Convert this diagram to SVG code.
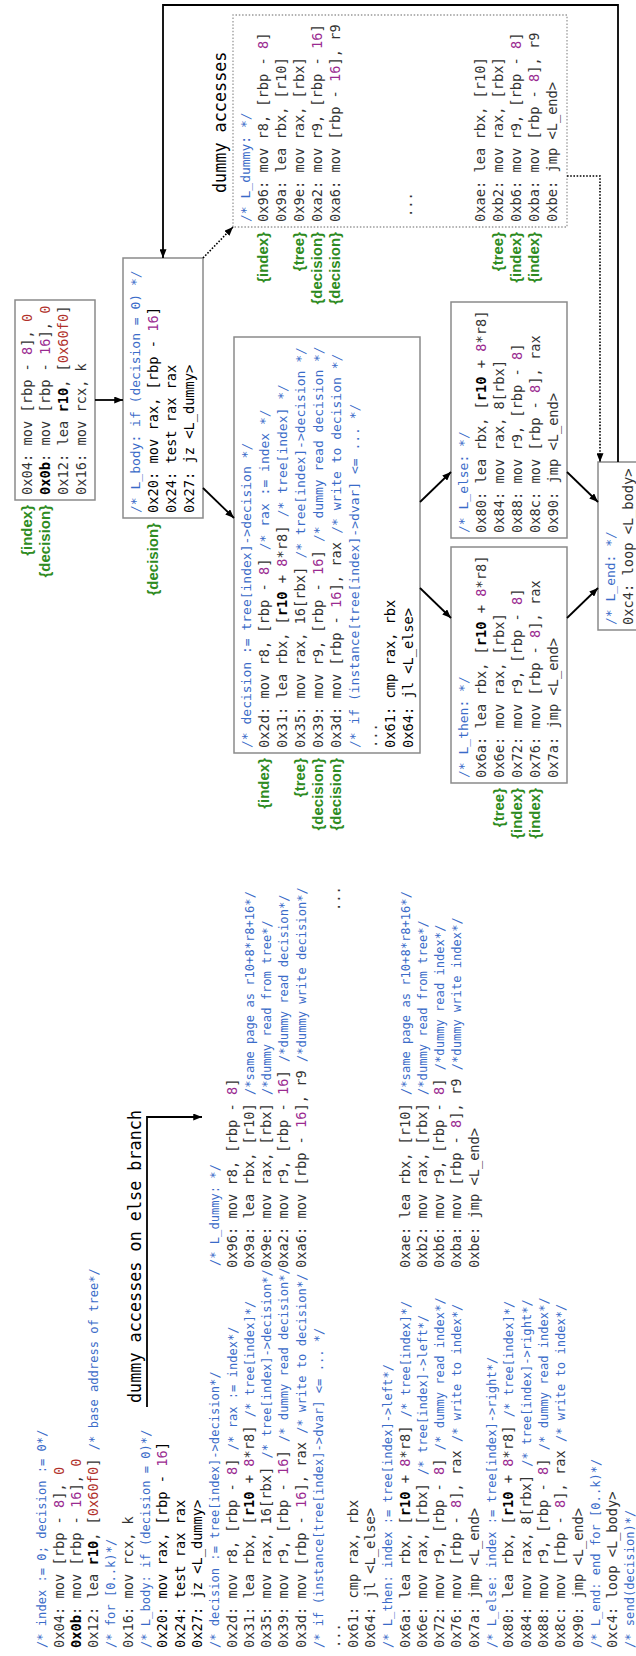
<svg xmlns="http://www.w3.org/2000/svg" width="636" height="1656" viewBox="0 0 636 1656">
<defs>
<style>
text{font-family:"DejaVu Sans Mono",monospace;}
.lc{font-size:13.7px;fill:#333;}
.lm{font-size:12.1px;fill:#3a6bc8;}
.bc{font-size:13.7px;fill:#333;}
.bm{font-size:13px;fill:#3a6bc8;}
.k{fill:#000;}
.p{fill:#9a2a90;}
.r{fill:#b0302a;}
.b{font-weight:bold;fill:#000;}
.lab{font-family:"Liberation Sans",Arial,sans-serif;font-weight:bold;font-size:15px;fill:#2e8b22;text-anchor:end;}
.ttl{font-size:16.8px;fill:#000;}
.box{fill:#fff;stroke:#8a8a8a;stroke-width:1.5;}
.dbox{fill:#fff;stroke:#999;stroke-width:1.3;stroke-dasharray:1.5 1.8;}
.ar{fill:none;stroke:#000;stroke-width:1.8;marker-end:url(#ah);}
.ard{fill:none;stroke:#000;stroke-width:1.6;stroke-dasharray:1.6 1.6;marker-end:url(#ah);}
</style>
<marker id="ah" viewBox="0 0 10 8" refX="10" refY="4" markerWidth="9" markerHeight="7" markerUnits="userSpaceOnUse" orient="auto"><path d="M0,0 L10,4 L0,8 z" fill="#000"/></marker>
</defs>
<rect width="636" height="1656" fill="#fff"/>

<g id="listing" transform="translate(0,1656) rotate(-90)">
<text class="lm" x="8" y="46.2">/* index := 0; decision := 0*/</text>
<text class="lc" x="8" y="63.5">0x04: mov [rbp - <tspan class="p">8</tspan>], <tspan class="r">0</tspan></text>
<text class="lc" x="8" y="80.8"><tspan class="b">0x0b</tspan>: mov [rbp - <tspan class="p">16</tspan>], <tspan class="r">0</tspan></text>
<text class="lc" x="8" y="98.1">0x12: lea <tspan class="b">r10</tspan>, [<tspan class="r">0x60f0</tspan>] <tspan class="lm">/* base address of tree*/</tspan></text>
<text class="lm" x="8" y="115.4">/* for [0..k)*/</text>
<text class="lc" x="8" y="132.7">0x16: mov rcx, k</text>
<text class="lm" x="8" y="150">/* L_body: if (decision = 0)*/</text>
<text class="lc k" x="8" y="167.3">0x20: mov rax, [rbp - <tspan class="p">16</tspan>]</text>
<text class="lc k" x="8" y="184.6">0x24: test rax rax</text>
<text class="lc k" x="8" y="201.9">0x27: jz &lt;L_dummy&gt;</text>
<text class="lm" x="8" y="219.2">/* decision := tree[index]-&gt;decision*/</text>
<text class="lc" x="8" y="236.5">0x2d: mov r8, [rbp - <tspan class="p">8</tspan>] <tspan class="lm">/* rax := index*/</tspan></text>
<text class="lc" x="8" y="253.8">0x31: lea rbx, [<tspan class="b">r10</tspan> + <tspan class="p">8</tspan>*r8] <tspan class="lm">/* tree[index]*/</tspan></text>
<text class="lc" x="8" y="271.1">0x35: mov rax, 16[rbx] <tspan class="lm">/* tree[index]-&gt;decision*/</tspan></text>
<text class="lc" x="8" y="288.4">0x39: mov r9, [rbp - <tspan class="p">16</tspan>] <tspan class="lm">/* dummy read decision*/</tspan></text>
<text class="lc" x="8" y="305.7">0x3d: mov [rbp - <tspan class="p">16</tspan>], rax <tspan class="lm">/* write to decision*/</tspan></text>
<text class="lm" x="8" y="323">/* if (instance[tree[index]-&gt;dvar] &lt;= ... */</text>
<text class="lc" x="8" y="340.3">...</text>
<text class="lc" x="8" y="357.6">0x61: cmp rax, rbx</text>
<text class="lc" x="8" y="374.9">0x64: jl &lt;L_else&gt;</text>
<text class="lm" x="8" y="392.2">/* L_then: index := tree[index]-&gt;left*/</text>
<text class="lc" x="8" y="409.5">0x6a: lea rbx, [<tspan class="b">r10</tspan> + <tspan class="p">8</tspan>*r8] <tspan class="lm">/* tree[index]*/</tspan></text>
<text class="lc" x="8" y="426.8">0x6e: mov rax, [rbx] <tspan class="lm">/* tree[index]-&gt;left*/</tspan></text>
<text class="lc" x="8" y="444.1">0x72: mov r9, [rbp - <tspan class="p">8</tspan>] <tspan class="lm">/* dummy read index*/</tspan></text>
<text class="lc" x="8" y="461.4">0x76: mov [rbp - <tspan class="p">8</tspan>], rax <tspan class="lm">/* write to index*/</tspan></text>
<text class="lc" x="8" y="478.7">0x7a: jmp &lt;L_end&gt;</text>
<text class="lm" x="8" y="496">/* L_else: index := tree[index]-&gt;right*/</text>
<text class="lc" x="8" y="513.3">0x80: lea rbx, [<tspan class="b">r10</tspan> + <tspan class="p">8</tspan>*r8] <tspan class="lm">/* tree[index]*/</tspan></text>
<text class="lc" x="8" y="530.6">0x84: mov rax, 8[rbx] <tspan class="lm">/* tree[index]-&gt;right*/</tspan></text>
<text class="lc" x="8" y="547.9">0x88: mov r9, [rbp - <tspan class="p">8</tspan>] <tspan class="lm">/* dummy read index*/</tspan></text>
<text class="lc" x="8" y="565.2">0x8c: mov [rbp - <tspan class="p">8</tspan>], rax <tspan class="lm">/* write to index*/</tspan></text>
<text class="lc" x="8" y="582.5">0x90: jmp &lt;L_end&gt;</text>
<text class="lm" x="8" y="599.8">/* L_end: end for [0..k)*/</text>
<text class="lc" x="8" y="617.1">0xc4: loop &lt;L_body&gt;</text>
<text class="lm" x="8" y="634.4">/* send(decision)*/</text>

<text class="lm" x="390" y="219.2">/* L_dummy: */</text>
<text class="lc" x="388" y="236.5">0x96: mov r8, [rbp - <tspan class="p">8</tspan>]</text>
<text class="lc" x="388" y="253.8">0x9a: lea rbx, [r10] <tspan class="lm">/*same page as r10+8*r8+16*/</tspan></text>
<text class="lc" x="388" y="271.1">0x9e: mov rax, [rbx] <tspan class="lm">/*dummy read from tree*/</tspan></text>
<text class="lc" x="388" y="288.4">0xa2: mov r9, [rbp - <tspan class="p">16</tspan>] <tspan class="lm">/*dummy read decision*/</tspan></text>
<text class="lc" x="388" y="305.7">0xa6: mov [rbp - <tspan class="p">16</tspan>], r9 <tspan class="lm">/*dummy write decision*/</tspan></text>
<text class="lc" x="745" y="340.3">...</text>
<text class="lc" x="388" y="409.5">0xae: lea rbx, [r10] <tspan class="lm">/*same page as r10+8*r8+16*/</tspan></text>
<text class="lc" x="388" y="426.8">0xb2: mov rax, [rbx] <tspan class="lm">/*dummy read from tree*/</tspan></text>
<text class="lc" x="388" y="444.1">0xb6: mov r9, [rbp - <tspan class="p">8</tspan>] <tspan class="lm">/*dummy read index*/</tspan></text>
<text class="lc" x="388" y="461.4">0xba: mov [rbp - <tspan class="p">8</tspan>], r9 <tspan class="lm">/*dummy write index*/</tspan></text>
<text class="lc" x="388" y="478.7">0xbe: jmp &lt;L_end&gt;</text>

<text class="ttl" x="253" y="141">dummy accesses on else branch</text>
</g>

<g id="n-init" transform="translate(0,1656) rotate(-90)">
<rect class="box" x="1156" y="15" width="200" height="80"/>
<text class="bc" x="1161" y="31.5">0x04: mov [rbp - <tspan class="p">8</tspan>], <tspan class="r">0</tspan></text>
<text class="bc" x="1161" y="49.6"><tspan class="b">0x0b</tspan>: mov [rbp - <tspan class="p">16</tspan>], <tspan class="r">0</tspan></text>
<text class="bc" x="1161" y="67.7">0x12: lea <tspan class="b">r10</tspan>, [<tspan class="r">0x60f0</tspan>]</text>
<text class="bc" x="1161" y="85.8">0x16: mov rcx, k</text>
<text class="lab" x="1151" y="31.5">{index}</text>
<text class="lab" x="1151" y="49.6">{decision}</text>
</g>

<g id="n-body" transform="translate(0,1656) rotate(-90)">
<rect class="box" x="1138" y="123" width="260" height="80"/>
<text class="bm" x="1143" y="139.5">/* L_body: if (decision = 0) */</text>
<text class="bc k" x="1143" y="157.6">0x20: mov rax, [rbp - <tspan class="p">16</tspan>]</text>
<text class="bc k" x="1143" y="175.7">0x24: test rax rax</text>
<text class="bc k" x="1143" y="193.8">0x27: jz &lt;L_dummy&gt;</text>
<text class="lab" x="1133" y="157.6">{decision}</text>
</g>

<g id="n-decision" transform="translate(0,1656) rotate(-90)">
<rect class="box" x="903" y="234" width="416" height="186"/>
<text class="bm" x="908" y="250.5">/* decision := tree[index]-&gt;decision */</text>
<text class="bc" x="908" y="268.6">0x2d: mov r8, [rbp - <tspan class="p">8</tspan>] <tspan class="bm">/* rax := index */</tspan></text>
<text class="bc" x="908" y="286.7">0x31: lea rbx, [<tspan class="b">r10</tspan> + <tspan class="p">8</tspan>*r8] <tspan class="bm">/* tree[index] */</tspan></text>
<text class="bc" x="908" y="304.8">0x35: mov rax, 16[rbx] <tspan class="bm">/* tree[index]-&gt;decision */</tspan></text>
<text class="bc" x="908" y="322.9">0x39: mov r9, [rbp - <tspan class="p">16</tspan>] <tspan class="bm">/* dummy read decision */</tspan></text>
<text class="bc" x="908" y="341">0x3d: mov [rbp - <tspan class="p">16</tspan>], rax <tspan class="bm">/* write to decision */</tspan></text>
<text class="bm" x="908" y="359.1">/* if (instance[tree[index]-&gt;dvar] &lt;= ... */</text>
<text class="bc" x="908" y="377.2">...</text>
<text class="bc k" x="908" y="395.3">0x61: cmp rax, rbx</text>
<text class="bc k" x="908" y="413.4">0x64: jl &lt;L_else&gt;</text>
<text class="lab" x="898" y="268.6">{index}</text>
<text class="lab" x="898" y="304.8">{tree}</text>
<text class="lab" x="898" y="322.9">{decision}</text>
<text class="lab" x="898" y="341">{decision}</text>
</g>

<g id="n-dummy" transform="translate(0,1656) rotate(-90)">
<text class="ttl" x="1463" y="226">dummy accesses</text>
<rect class="dbox" x="1429" y="233" width="212" height="334"/>
<text class="bm" x="1434" y="249.5">/* L_dummy: */</text>
<text class="bc" x="1434" y="267.6">0x96: mov r8, [rbp - <tspan class="p">8</tspan>]</text>
<text class="bc" x="1434" y="285.7">0x9a: lea rbx, [r10]</text>
<text class="bc" x="1434" y="303.8">0x9e: mov rax, [rbx]</text>
<text class="bc" x="1434" y="321.9">0xa2: mov r9, [rbp - <tspan class="p">16</tspan>]</text>
<text class="bc" x="1434" y="340">0xa6: mov [rbp - <tspan class="p">16</tspan>], r9</text>
<text class="bc" x="1439" y="412.4">...</text>
<text class="bc" x="1434" y="484.8">0xae: lea rbx, [r10]</text>
<text class="bc" x="1434" y="502.9">0xb2: mov rax, [rbx]</text>
<text class="bc" x="1434" y="521">0xb6: mov r9, [rbp - <tspan class="p">8</tspan>]</text>
<text class="bc" x="1434" y="539.1">0xba: mov [rbp - <tspan class="p">8</tspan>], r9</text>
<text class="bc" x="1434" y="557.2">0xbe: jmp &lt;L_end&gt;</text>
<text class="lab" x="1424" y="267.6">{index}</text>
<text class="lab" x="1424" y="303.8">{tree}</text>
<text class="lab" x="1424" y="321.9">{decision}</text>
<text class="lab" x="1424" y="340">{decision}</text>
<text class="lab" x="1424" y="502.9">{tree}</text>
<text class="lab" x="1424" y="521">{index}</text>
<text class="lab" x="1424" y="539.1">{index}</text>
</g>

<g id="n-then" transform="translate(0,1656) rotate(-90)">
<rect class="box" x="873" y="451" width="236" height="116"/>
<text class="bm" x="878" y="467.5">/* L_then: */</text>
<text class="bc" x="878" y="485.6">0x6a: lea rbx, [<tspan class="b">r10</tspan> + <tspan class="p">8</tspan>*r8]</text>
<text class="bc" x="878" y="503.7">0x6e: mov rax, [rbx]</text>
<text class="bc" x="878" y="521.8">0x72: mov r9, [rbp - <tspan class="p">8</tspan>]</text>
<text class="bc" x="878" y="539.9">0x76: mov [rbp - <tspan class="p">8</tspan>], rax</text>
<text class="bc" x="878" y="558">0x7a: jmp &lt;L_end&gt;</text>
<text class="lab" x="868" y="503.7">{tree}</text>
<text class="lab" x="868" y="521.8">{index}</text>
<text class="lab" x="868" y="539.9">{index}</text>
</g>

<g id="n-else" transform="translate(0,1656) rotate(-90)">
<rect class="box" x="1118" y="451" width="236" height="116"/>
<text class="bm" x="1123" y="467.5">/* L_else: */</text>
<text class="bc" x="1123" y="485.6">0x80: lea rbx, [<tspan class="b">r10</tspan> + <tspan class="p">8</tspan>*r8]</text>
<text class="bc" x="1123" y="503.7">0x84: mov rax, 8[rbx]</text>
<text class="bc" x="1123" y="521.8">0x88: mov r9, [rbp - <tspan class="p">8</tspan>]</text>
<text class="bc" x="1123" y="539.9">0x8c: mov [rbp - <tspan class="p">8</tspan>], rax</text>
<text class="bc" x="1123" y="558">0x90: jmp &lt;L_end&gt;</text>
</g>

<g id="n-end" transform="translate(0,1656) rotate(-90)">
<rect class="box" x="1026" y="598" width="168" height="60"/>
<text class="bm" x="1031" y="614.5">/* L_end: */</text>
<text class="bc" x="1031" y="632.6">0xc4: loop &lt;L_body&gt;</text>
</g>

<g id="connectors">
<path class="ar" d="M147,1407 L147,1117 L202,1117"/>
<path class="ar" d="M95,400 L123,400"/>
<path class="ar" d="M203,488 L234,518"/>
<path class="ard" d="M203,258 L233,227"/>
<path class="ard" d="M567,176 L600,176 L600,462"/>
<path class="ar" d="M618,462 L618,5 L163,5 L163,258"/>
<path class="ar" d="M420,502 L451,472"/>
<path class="ar" d="M420,588 L451,618"/>
<path class="ar" d="M567,472 L598,502"/>
<path class="ar" d="M567,618 L598,588"/>
</g>
</svg>
